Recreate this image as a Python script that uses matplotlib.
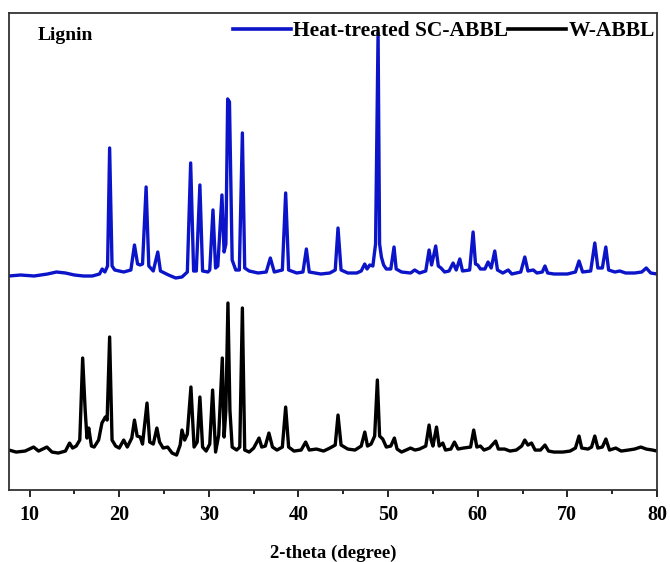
import matplotlib
matplotlib.use("Agg")
import matplotlib.pyplot as plt
from matplotlib.ticker import MultipleLocator

# traced XRD patterns: 2-theta (deg) and intensity above each trace's own baseline (a.u.)
sc_theta = [7.7, 9.0, 10.5, 12.0, 13.0, 14.0, 15.0, 16.0, 17.0, 17.8, 18.1, 18.4, 18.7, 18.93, 19.2,
            19.5, 20.5, 21.3, 21.7, 22.05, 22.35, 22.6, 23.0, 23.3, 23.8, 24.3, 24.6, 25.5, 26.3, 27.0,
            27.6, 27.97, 28.3, 28.6, 29.0, 29.3, 29.9, 30.1, 30.46, 30.75, 31.0, 31.46, 31.7, 31.9, 32.1,
            32.3, 32.6, 33.0, 33.4, 33.74, 34.0, 34.5, 35.5, 36.4, 36.86, 37.3, 38.2, 38.57, 38.9, 39.8,
            40.5, 40.88, 41.2, 42.5, 43.5, 44.1, 44.41, 44.75, 45.5, 46.5, 47.0, 47.39, 47.65, 47.95, 48.3,
            48.6, 48.88, 49.05, 49.25, 49.5, 49.8, 50.3, 50.66, 50.9, 51.5, 52.5, 52.97, 53.5, 54.2, 54.57,
            54.85, 55.31, 55.6, 55.9, 56.3, 56.8, 57.25, 57.6, 58.0, 58.3, 59.1, 59.48, 59.75, 60.0, 60.3,
            60.8, 61.15, 61.5, 61.9, 62.2, 62.8, 63.4, 63.8, 64.8, 65.25, 65.6, 66.2, 66.6, 67.2, 67.5,
            67.8, 68.5, 70.0, 70.9, 71.3, 71.7, 72.6, 73.06, 73.4, 73.9, 74.29, 74.6, 75.3, 75.85, 76.5,
            77.5, 78.3, 78.8, 79.3, 80.0]
sc_int = [-2, -1, -2, 0, 2, 1, -1, -2, -2, 0, 5, 2, 8, 126, 8,
          4, 2, 4, 29, 10, 9, 10, 87, 8, 3, 22, 3, -1, -4, -3,
          2, 111, 3, 3, 89, 3, 2, 4, 64, 6, 8, 79, 22, 30, 175,
          172, 14, 4, 4, 141, 6, 3, 1, 2, 16, 2, 4, 81, 4, 1,
          2, 25, 2, 0, 1, 4, 46, 4, 1, 1, 3, 10, 5, 9, 8,
          30, 241, 30, 17, 9, 5, 5, 27, 5, 2, 1, 4, 1, 3, 24,
          9, 28, 8, 6, 2, 3, 11, 4, 15, 3, 4, 42, 10, 9, 5,
          5, 12, 6, 23, 4, 1, 4, 0, 2, 17, 3, 4, 1, 2, 8,
          1, 0, 0, 2, 13, 2, 3, 31, 6, 6, 27, 4, 2, 3, 1,
          1, 2, 6, 1, 0]

w_theta = [7.7, 8.5, 9.5, 10.45, 11.0, 11.93, 12.5, 13.2, 14.0, 14.46, 14.8, 15.2, 15.6, 15.92, 16.2,
           16.4, 16.6, 16.9, 17.2, 17.7, 18.07, 18.45, 18.65, 18.93, 19.2, 19.6, 20.0, 20.5, 20.9, 21.4,
           21.7, 22.0, 22.35, 22.6, 23.1, 23.4, 23.8, 24.2, 24.5, 24.9, 25.4, 25.9, 26.4, 26.8, 27.0,
           27.3, 27.6, 28.0, 28.35, 28.7, 29.0, 29.3, 29.7, 30.1, 30.42, 30.75, 31.1, 31.5, 31.7, 31.9,
           32.13, 32.35, 32.6, 33.1, 33.45, 33.74, 34.0, 34.5, 35.0, 35.6, 35.9, 36.3, 36.7, 37.1, 37.6,
           38.2, 38.57, 38.9, 39.5, 40.3, 40.8, 41.2, 42.0, 42.8, 43.5, 44.1, 44.41, 44.75, 45.5, 46.3,
           47.0, 47.4, 47.7, 48.1, 48.5, 48.8, 49.05, 49.4, 49.8, 50.3, 50.7, 51.0, 51.5, 52.0, 52.5,
           53.0, 53.5, 54.2, 54.57, 54.8, 55.0, 55.4, 55.7, 56.1, 56.4, 57.0, 57.4, 57.8, 58.4, 59.2,
           59.55, 59.9, 60.3, 60.7, 61.3, 62.0, 62.3, 63.0, 63.6, 64.3, 64.9, 65.25, 65.6, 66.0, 66.4,
           67.0, 67.5, 67.9, 68.5, 69.5, 70.3, 70.9, 71.3, 71.6, 72.3, 72.7, 73.06, 73.4, 73.9, 74.3,
           74.7, 75.4, 76.0, 76.8, 77.5, 78.2, 78.8, 79.5, 80.0]
w_int = [0, -2, -1, 3, -1, 3, -2, -3, -1, 7, 2, 4, 10, 92, 40,
         12, 22, 4, 3, 10, 27, 33, 30, 113, 10, 4, 2, 10, 3, 12,
         30, 14, 13, 6, 47, 8, 6, 22, 8, 2, 3, -3, -5, 5, 20,
         10, 16, 63, 3, 8, 53, 3, -1, 6, 60, -2, 15, 92, 13, 40,
         147, 40, 3, 0, 3, 142, 0, -2, 2, 12, 3, 4, 17, 3, 0,
         3, 43, 3, -1, 0, 8, 0, 1, -1, 2, 5, 35, 5, 1, 0,
         4, 18, 4, 6, 14, 70, 14, 11, 3, 4, 12, 1, -2, 0, 2,
         0, 1, 4, 25, 10, 4, 23, 4, 7, 0, 1, 8, 1, 2, 3,
         20, 3, 4, 0, 2, 9, 1, 1, -1, 0, 4, 10, 5, 7, 0,
         0, 5, -1, -2, -2, -1, 2, 14, 2, 1, 3, 14, 2, 3, 11,
         0, 2, -1, 0, 1, 3, 1, 0, -1]

labels = ["Heat-treated SC-ABBL", "W-ABBL"]
sc_offset = 216
w_offset = 40

plt.rcParams['font.family'] = ['Liberation Serif', 'DejaVu Serif']
plt.rcParams['font.weight'] = 'bold'

fig = plt.figure(figsize=(6.7, 5.62), dpi=100)
ax = fig.add_axes([0.0134, 0.128, 0.9672, 0.849])

ax.plot(sc_theta, [v + sc_offset for v in sc_int], color='#0b14c8', lw=2.4, label=labels[0])
ax.plot(w_theta, [v + w_offset for v in w_int], color='black', lw=2.4, label=labels[1])

ax.set_xlim(7.7, 80)
ax.set_ylim(0, 477)
ax.set_yticks([])
ax.xaxis.set_major_locator(MultipleLocator(10))
ax.xaxis.set_minor_locator(MultipleLocator(5))
ax.tick_params(axis='x', which='major', direction='out', length=5, width=1.2, labelsize=14.5, pad=6)
ax.tick_params(axis='x', which='minor', direction='out', length=3, width=1.2)
for lab in ax.get_xticklabels():
    lab.set_fontweight('bold')
for sp in ax.spines.values():
    sp.set_linewidth(1.3)
    sp.set_color('#333333')

ax.set_xlabel("2-theta (degree)", fontsize=13.5, fontweight='bold', labelpad=14)
ax.text(0.045, 0.97, "Lignin", transform=ax.transAxes, fontsize=14, fontweight='bold',
        va='top', ha='left')

leg = ax.legend(loc='upper right', bbox_to_anchor=(1.013, 1.005), ncol=2, frameon=False,
                handlelength=2.7, handletextpad=0.1, columnspacing=0.0, borderaxespad=0.1,
                prop={'size': 15.5, 'weight': 'bold'})
for h in leg.get_lines():
    h.set_linewidth(2.6)

fig.savefig("out.png", dpi=100)
